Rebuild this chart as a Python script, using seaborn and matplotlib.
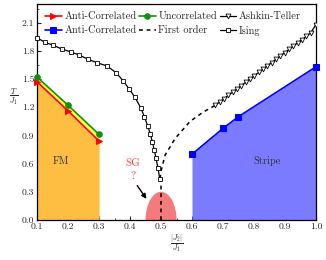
import numpy as np
import pandas as pd
import matplotlib
matplotlib.use("Agg")
import matplotlib.pyplot as plt
import seaborn as sns
from matplotlib.patches import Ellipse

# ---- data ----
fm_x = [0.1, 0.2, 0.3]
fm_anti = [1.47, 1.16, 0.84]
fm_uncorr = [1.52, 1.22, 0.91]

st_x = [0.6, 0.7, 0.75, 1.0]
st_anti = [0.70, 0.975, 1.10, 1.63]

ising_x = [0.1, 0.125, 0.152, 0.179, 0.208, 0.236, 0.265, 0.292, 0.325, 0.355,
           0.378, 0.398, 0.416, 0.435, 0.446, 0.457, 0.465, 0.472, 0.478, 0.484,
           0.490, 0.496]
ising_y = [1.94, 1.89, 1.86, 1.82, 1.79, 1.755, 1.71, 1.675, 1.64, 1.567,
           1.48, 1.39, 1.305, 1.19, 1.10, 1.00, 0.92, 0.83, 0.745, 0.655,
           0.55, 0.44]

at_x = [0.675, 0.689, 0.703, 0.717, 0.731, 0.745, 0.759, 0.773, 0.787, 0.801,
        0.815, 0.829, 0.843, 0.857, 0.871, 0.885, 0.899, 0.913, 0.927, 0.941,
        0.955, 0.969, 0.983, 1.0]
at_y = [1.22, 1.255, 1.29, 1.325, 1.36, 1.395, 1.43, 1.465, 1.50, 1.535,
        1.57, 1.605, 1.64, 1.675, 1.71, 1.745, 1.78, 1.815, 1.85, 1.885,
        1.92, 1.955, 1.99, 2.08]

fo_x = [0.497, 0.5, 0.513, 0.546, 0.594, 0.637, 0.675]
fo_y = [0.44, 0.52, 0.69, 0.87, 1.05, 1.15, 1.22]
fo_vx = [0.5, 0.5]
fo_vy = [0.0, 0.44]

sg_center, sg_width, sg_height = 0.5, 0.1, 0.3

xticks = [0.1, 0.2, 0.3, 0.4, 0.5, 0.6, 0.7, 0.8, 0.9, 1.0]
yticks = [0.0, 0.3, 0.6, 0.9, 1.2, 1.5, 1.8, 2.1]

# ---- style ----
sns.set_style("ticks")
plt.rcParams["font.family"] = ["cmr10", "DejaVu Serif"]
plt.rcParams["mathtext.fontset"] = "cm"
plt.rcParams["axes.unicode_minus"] = False
plt.rcParams["axes.formatter.use_mathtext"] = True

fig = plt.figure(figsize=(3.26, 2.60), dpi=100)
ax = fig.add_axes([0.114, 0.154, 0.855, 0.831])

# fills
ax.fill_between(fm_x, 0, fm_anti, color="#FDBE41", lw=0, zorder=1)
ax.fill_between(fm_x, fm_anti, fm_uncorr, color="#FFFF40", lw=0, zorder=1)
ax.fill_between(st_x, 0, st_anti, color="#7B7BFF", lw=0, zorder=1)
ax.add_patch(Ellipse((sg_center, 0), sg_width, 2 * sg_height,
                     color="#F47B7B", lw=0, zorder=1))

# lines
df = pd.DataFrame({"x": fm_x, "y": fm_anti})
sns.lineplot(data=df, x="x", y="y", ax=ax, color="#FF0000", lw=1.2, marker=">",
             markersize=4.2, markeredgecolor="#FF0000", sort=False,
             label="Anti-Correlated", zorder=4, clip_on=False)
df = pd.DataFrame({"x": st_x, "y": st_anti})
sns.lineplot(data=df, x="x", y="y", ax=ax, color="#0000FF", lw=1.2, marker="s",
             markersize=3.8, markeredgecolor="#0000FF", sort=False,
             label="Anti-Correlated", zorder=4, clip_on=False)
df = pd.DataFrame({"x": fm_x, "y": fm_uncorr})
sns.lineplot(data=df, x="x", y="y", ax=ax, color="#109010", lw=1.2, marker="o",
             markersize=4, markeredgecolor="#109010", sort=False,
             label="Uncorrelated", zorder=4, clip_on=False)
df = pd.DataFrame({"x": fo_x, "y": fo_y})
sns.lineplot(data=df, x="x", y="y", ax=ax, color="black", lw=1.1,
             linestyle=(0, (2.5, 2.5)), sort=False, label="First order", zorder=3)
ax.plot(fo_vx, fo_vy, color="black", lw=1.1, linestyle=(0, (2.5, 2.5)), zorder=3)
df = pd.DataFrame({"x": at_x, "y": at_y})
sns.lineplot(data=df, x="x", y="y", ax=ax, color="black", lw=0.9, marker="v",
             markersize=3.5, markerfacecolor="white", markeredgecolor="black",
             markeredgewidth=0.6, sort=False, label="Ashkin-Teller", zorder=4)
df = pd.DataFrame({"x": ising_x, "y": ising_y})
sns.lineplot(data=df, x="x", y="y", ax=ax, color="black", lw=0.9, marker="s",
             markersize=3, markerfacecolor="white", markeredgecolor="black",
             markeredgewidth=0.6, sort=False, label="Ising", zorder=4,
             clip_on=False)

# texts
ax.text(0.175, 0.63, "FM", ha="center", va="center", fontsize=7.5, color="#333333")
ax.text(0.843, 0.63, "Stripe", ha="center", va="center", fontsize=7.5, color="#333333")
ax.text(0.41, 0.6, "SG", ha="center", va="center", fontsize=8, color="#FF4040")
ax.text(0.41, 0.47, "?", ha="center", va="center", fontsize=8, color="#FF4040")
ax.annotate("", xy=(0.458, 0.2), xytext=(0.418, 0.39),
            arrowprops=dict(arrowstyle="-|>", color="black", lw=1.0,
                            mutation_scale=7), zorder=5)

ax.set_xlim(0.1, 1.0)
ax.set_ylim(0.0, 2.3)
ax.set_xticks(xticks)
ax.set_yticks(yticks)
ax.set_xticklabels([f"{v:.1f}" for v in xticks])
ax.set_yticklabels([f"{v:.1f}" for v in yticks])
ax.set_xticks(np.arange(0.15, 1.0, 0.1), minor=True)
ax.set_yticks(np.arange(0.15, 2.3, 0.3), minor=True)
ax.tick_params(axis="both", which="major", direction="in", length=3, width=0.8,
               labelsize=7, pad=2)
ax.tick_params(axis="both", which="minor", direction="in", length=1.5, width=0.6)
for s in ax.spines.values():
    s.set_linewidth(0.9)
    s.set_color("black")

ax.set_xlabel(r"$\frac{|J_2|}{J_1}$", fontsize=8, labelpad=1)
ax.set_ylabel(r"$\frac{T}{J_1}$", fontsize=8, rotation=0, labelpad=8, va="center")
ax.yaxis.set_label_coords(-0.085, 0.57)

leg = ax.legend(ncol=3, loc="upper left", bbox_to_anchor=(0.0, 1.0),
                frameon=False, fontsize=7.5, handlelength=1.6,
                handletextpad=0.25, columnspacing=0.25, labelspacing=0.45,
                borderaxespad=0.45, borderpad=0.3)

fig.savefig("out.png", dpi=100)
